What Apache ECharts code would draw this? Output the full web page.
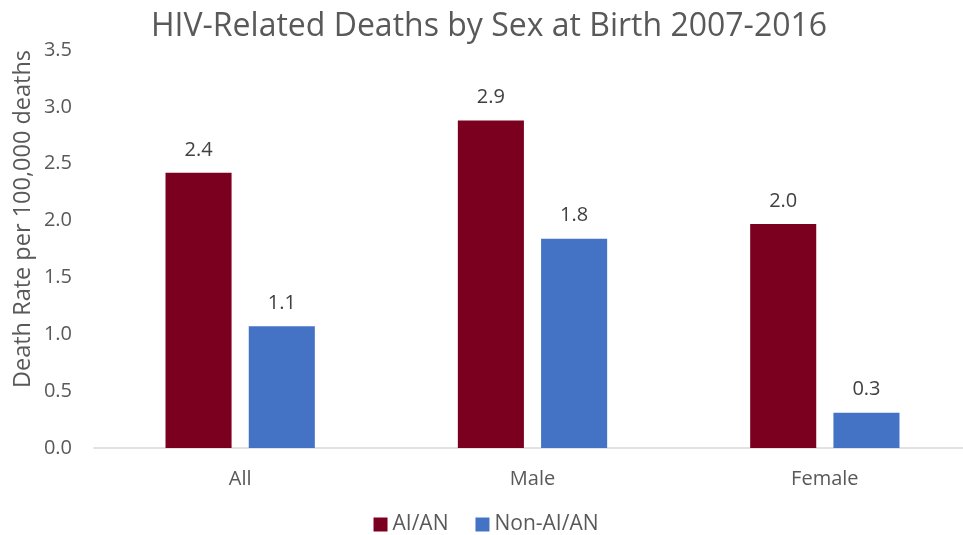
<!DOCTYPE html>
<html><head><meta charset="utf-8">
<script src="https://cdn.jsdelivr.net/npm/echarts@6/dist/echarts.min.js"></script>
<style>html,body{margin:0;padding:0;background:#fff;overflow:hidden;width:963px;height:535px}#c{width:972px;height:535px}</style>
</head><body><div id="c"></div>
<script>
const categories = ['All', 'Male', 'Female'];
const aian = [2.42, 2.88, 1.97];
const nonAian = [1.07, 1.84, 0.31];
const yTicks = [0, 0.5, 1.0, 1.5, 2.0, 2.5, 3.0, 3.5];
const yTitle = 'Death Rate per 100,000 deaths';

const font = 'Open Sans';
const grey = '#595959';
const chart = echarts.init(document.getElementById('c'));
const lbl = {show: true, position: 'top', distance: 13, color: '#404040', fontSize: 20, fontFamily: font,
  formatter: p => p.value.toFixed(1)};
chart.setOption({
  animation: false,
  title: {text: 'HIV-Related Deaths by Sex at Birth 2007-2016', left: 484, textAlign: 'center', top: 6,
    textStyle: {fontSize: 32, fontWeight: 'normal', color: grey, fontFamily: font}},
  legend: {bottom: 0, padding: 0, left: 'center', itemWidth: 14, itemHeight: 14, itemGap: 27, icon: 'rect',
    textStyle: {fontSize: 21, color: grey, fontFamily: font}},
  graphic: [{type: 'text', x: 23, y: 219, rotation: Math.PI / 2,
    style: {text: yTitle, font: '23.5px "Open Sans"', fill: grey,
      textAlign: 'center', textVerticalAlign: 'middle', align: 'center', verticalAlign: 'middle'}}],
  grid: {left: 94, right: 1, top: 50, bottom: 87},
  xAxis: {type: 'category', data: categories,
    axisLine: {lineStyle: {color: '#d9d9d9', width: 1.5}}, axisTick: {show: false},
    axisLabel: {fontSize: 20, color: grey, fontFamily: font, margin: 21}},
  yAxis: {type: 'value', min: yTicks[0], max: yTicks[yTicks.length - 1], interval: 0.5,
    splitLine: {show: false}, axisLine: {show: false}, axisTick: {show: false},
    axisLabel: {fontSize: 20, color: grey, fontFamily: font, margin: 22, formatter: v => v.toFixed(1)}},
  series: [
    {name: 'AI/AN', type: 'bar', data: aian, barWidth: '22.6%', barGap: '26%',
      itemStyle: {color: '#7B0020'}, label: lbl},
    {name: 'Non-AI/AN', type: 'bar', data: nonAian, barWidth: '22.6%',
      itemStyle: {color: '#4472C4'}, label: lbl}
  ]
});
</script></body></html>
